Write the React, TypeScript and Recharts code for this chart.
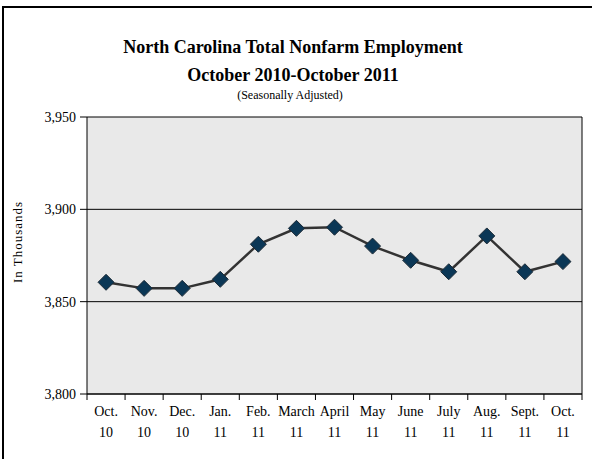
import { LineChart, Line, XAxis, YAxis, CartesianGrid, ReferenceLine } from 'recharts';

// North Carolina total nonfarm employment, thousands, seasonally adjusted
const months = ['Oct.', 'Nov.', 'Dec.', 'Jan.', 'Feb.', 'March', 'April', 'May', 'June', 'July', 'Aug.', 'Sept.', 'Oct.'];
const years = ['10', '10', '10', '11', '11', '11', '11', '11', '11', '11', '11', '11', '11'];
const employment = [3860.5, 3857.2, 3857.2, 3862.1, 3881.1, 3889.7, 3890.3, 3880.1, 3872.4, 3866.2, 3885.6, 3866.2, 3871.7];
const yTicks = [3800, 3850, 3900, 3950];

const data = months.map((m, i) => ({ pos: i + 0.5, month: m, year: years[i], value: employment[i] }));
const bounds = [...data.map((d) => d.pos - 0.5), months.length];

const serif = 'Liberation Serif, Times New Roman, serif';

// ticks sit on category boundaries; the label goes half a band to the right
const MonthTick = ({ x, y, payload, width, visibleTicksCount }: any) => {
  const i = payload.value;
  if (i >= months.length || !width) return null;
  const half = width / (visibleTicksCount - 1) / 2;
  const cx = x + half;
  return (
    <text x={cx} y={y} textAnchor="middle" fontFamily={serif} fontSize={14} fill="#000">
      <tspan x={cx} dy={12}>{months[i]}</tspan>
      <tspan x={cx} dy={21}>{years[i]}</tspan>
    </text>
  );
};

const YTick = ({ x, y, payload }: any) => (
  <text x={x} y={y} dy={5} textAnchor="end" fontFamily={serif} fontSize={14} fill="#000">
    {Number(payload.value).toLocaleString('en-US')}
  </text>
);

const Diamond = ({ cx, cy }: any) => {
  if (cx == null || cy == null) return null;
  const r = 8;
  return (
    <polygon
      points={`${cx},${cy - r} ${cx + r},${cy} ${cx},${cy + r} ${cx - r},${cy}`}
      fill="#0b3756"
      stroke="#1c2a36"
      strokeWidth={1}
    />
  );
};

export default function App() {
  return (
    <div style={{ position: 'absolute', left: 0, top: 0, width: 592, height: 459, overflow: 'hidden', background: '#fff', fontFamily: serif }}>
      <div style={{ position: 'absolute', left: 2, top: 6, width: 620, height: 480, border: '2px solid #000', boxSizing: 'border-box' }} />
      <div style={{ position: 'absolute', left: 0, width: 592, top: 33, textAlign: 'center', fontWeight: 'bold', fontSize: 18, lineHeight: '28px' }}>
        <div style={{ marginLeft: -6 }}>North Carolina Total Nonfarm Employment</div>
        <div style={{ marginLeft: -6 }}>October 2010-October 2011</div>
      </div>
      <div style={{ position: 'absolute', left: 0, width: 592, top: 88, textAlign: 'center', fontSize: 12, marginLeft: -6 }}>
        (Seasonally Adjusted)
      </div>
      <div
        style={{
          position: 'absolute',
          left: 18,
          top: 242,
          transform: 'translate(-50%, -50%) rotate(-90deg)',
          fontSize: 13,
          letterSpacing: 1,
          whiteSpace: 'nowrap',
        }}
      >
        In Thousands
      </div>
      <LineChart
        width={592}
        height={459}
        data={data}
        margin={{ top: 117, right: 10, bottom: 20, left: 0 }}
        style={{ position: 'absolute', left: 0, top: 0, fontFamily: serif }}
      >
        <CartesianGrid horizontal vertical={false} stroke="#000" strokeWidth={1} fill="#e9e9e9" />
        <XAxis
          type="number"
          dataKey="pos"
          domain={[0, months.length]}
          ticks={bounds}
          interval={0}
          tick={<MonthTick />}
          tickSize={6}
          tickMargin={4}
          stroke="#000"
          height={45}
        />
        <YAxis
          type="number"
          domain={[3800, 3950]}
          ticks={yTicks}
          interval={0}
          width={87}
          tickSize={7}
          tickMargin={4}
          stroke="#000"
          tick={<YTick />}
        />
        <ReferenceLine x={months.length} stroke="#000" />
        <Line
          type="linear"
          dataKey="value"
          stroke="#333"
          strokeWidth={2.5}
          dot={<Diamond />}
          activeDot={false}
          isAnimationActive={false}
        />
      </LineChart>
    </div>
  );
}
